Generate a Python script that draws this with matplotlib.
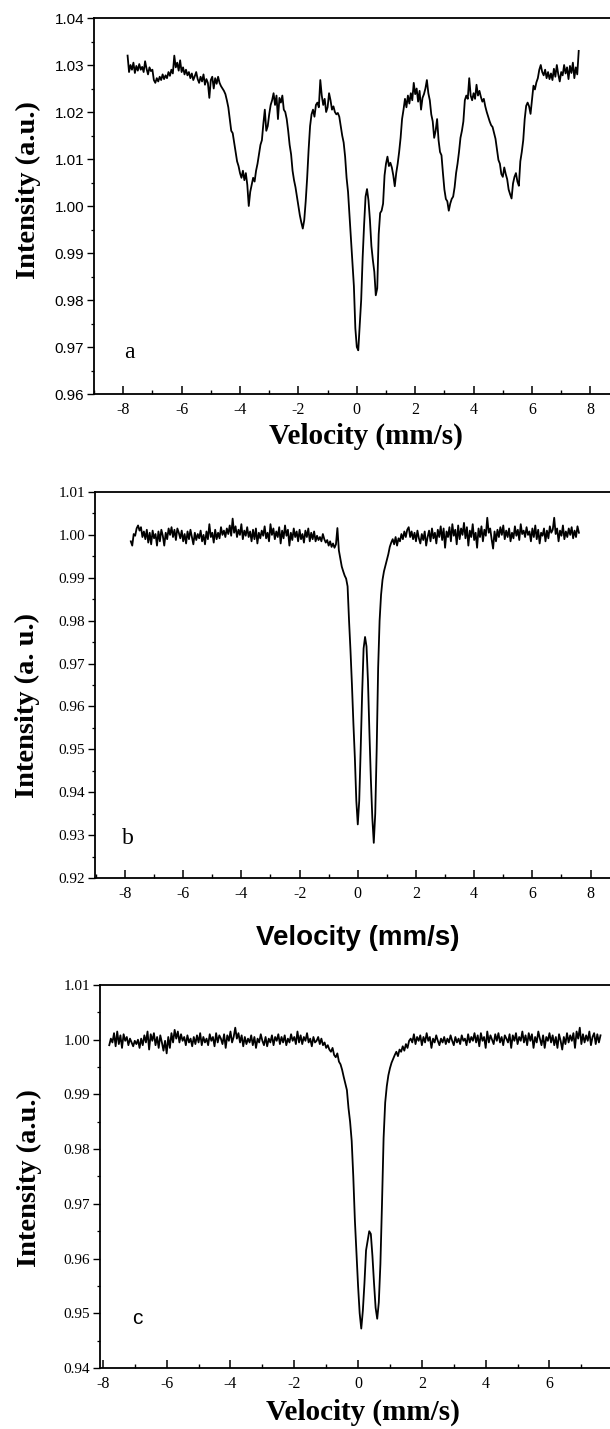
import numpy as np
import matplotlib
matplotlib.use('Agg')
import matplotlib.pyplot as plt
from matplotlib.ticker import MultipleLocator, FormatStrFormatter

plt.rcParams['axes.unicode_minus'] = False

SERIF = 'Liberation Serif'
SANS = 'Liberation Sans'

# Mossbauer spectra, channel step 0.05 mm/s
start_a = -7.85
int_a = [
    1.0320, 1.0285, 1.0300, 1.0290, 1.0305, 1.0283, 1.0298, 1.0288, 1.0302, 1.0290,
    1.0296, 1.0285, 1.0308, 1.0292, 1.0280, 1.0295, 1.0287, 1.0290, 1.0268, 1.0262,
    1.0272, 1.0265, 1.0275, 1.0268, 1.0280, 1.0270, 1.0278, 1.0272, 1.0285, 1.0277,
    1.0290, 1.0282, 1.0320, 1.0295, 1.0305, 1.0288, 1.0310, 1.0285, 1.0295, 1.0280,
    1.0290, 1.0278, 1.0285, 1.0272, 1.0282, 1.0268, 1.0276, 1.0285, 1.0270, 1.0262,
    1.0275, 1.0265, 1.0280, 1.0258, 1.0270, 1.0262, 1.0230, 1.0268, 1.0275, 1.0250,
    1.0272, 1.0260, 1.0275, 1.0262, 1.0255, 1.0250, 1.0245, 1.0238, 1.0225, 1.0210,
    1.0185, 1.0160, 1.0155, 1.0135, 1.0115, 1.0095, 1.0085, 1.0070, 1.0060, 1.0075,
    1.0055, 1.0070, 1.0045, 1.0000, 1.0030, 1.0045, 1.0060, 1.0052, 1.0075, 1.0090,
    1.0110, 1.0130, 1.0140, 1.0175, 1.0205, 1.0160, 1.0170, 1.0195, 1.0215, 1.0225,
    1.0240, 1.0215, 1.0235, 1.0185, 1.0230, 1.0220, 1.0235, 1.0205, 1.0200, 1.0185,
    1.0160, 1.0130, 1.0110, 1.0075, 1.0055, 1.0040, 1.0020, 1.0000, 0.9980, 0.9965,
    0.9952, 0.9970, 1.0010, 1.0060, 1.0120, 1.0170, 1.0195, 1.0205, 1.0190, 1.0215,
    1.0220, 1.0210, 1.0268, 1.0235, 1.0215, 1.0228, 1.0200, 1.0210, 1.0240, 1.0225,
    1.0205, 1.0212, 1.0200, 1.0195, 1.0198, 1.0190, 1.0170, 1.0150, 1.0135, 1.0105,
    1.0060, 1.0030, 0.9980, 0.9930, 0.9880, 0.9830, 0.9740, 0.9700, 0.9693, 0.9745,
    0.9800, 0.9890, 0.9960, 1.0020, 1.0036, 1.0012, 0.9970, 0.9915, 0.9885, 0.9860,
    0.9810, 0.9825, 0.9940, 0.9985, 0.9990, 1.0005, 1.0065, 1.0090, 1.0105, 1.0085,
    1.0092, 1.0082, 1.0065, 1.0042, 1.0070, 1.0090, 1.0115, 1.0145, 1.0185, 1.0205,
    1.0228, 1.0210, 1.0235, 1.0218, 1.0240, 1.0225, 1.0262, 1.0238, 1.0250, 1.0222,
    1.0245, 1.0205, 1.0230, 1.0238, 1.0250, 1.0268, 1.0240, 1.0225, 1.0195, 1.0180,
    1.0145, 1.0160, 1.0185, 1.0140, 1.0115, 1.0108, 1.0070, 1.0035, 1.0015, 1.0010,
    0.9990, 1.0005, 1.0015, 1.0020, 1.0040, 1.0070, 1.0090, 1.0115, 1.0145, 1.0160,
    1.0180, 1.0225, 1.0235, 1.0228, 1.0272, 1.0235, 1.0225, 1.0240, 1.0228, 1.0258,
    1.0235, 1.0245, 1.0232, 1.0222, 1.0228, 1.0212, 1.0200, 1.0190, 1.0180, 1.0172,
    1.0168, 1.0155, 1.0143, 1.0120, 1.0098, 1.0090, 1.0068, 1.0062, 1.0082, 1.0068,
    1.0057, 1.0035, 1.0025, 1.0016, 1.0048, 1.0062, 1.0070, 1.0052, 1.0043, 1.0095,
    1.0115, 1.0140, 1.0185, 1.0213, 1.0220, 1.0212, 1.0196, 1.0225, 1.0256, 1.0248,
    1.0263, 1.0272, 1.0290, 1.0300, 1.0285, 1.0278, 1.0290, 1.0272, 1.0285, 1.0270,
    1.0282, 1.0268, 1.0292, 1.0275, 1.0300, 1.0280, 1.0265, 1.0285, 1.0278, 1.0300,
    1.0282, 1.0295, 1.0270, 1.0298, 1.0283, 1.0305, 1.0272, 1.0295, 1.0280, 1.0330,
]

start_b = -7.80
int_b = [
    0.9985, 0.9975, 1.0002, 0.9998, 1.0015, 1.0022, 1.0010, 1.0018, 0.9995, 1.0008,
    0.9990, 1.0012, 0.9982, 1.0005, 0.9978, 1.0010, 0.9992, 1.0002, 0.9975, 1.0008,
    0.9985, 1.0012, 0.9998, 0.9975, 1.0005, 0.9990, 1.0015, 1.0000, 1.0018, 0.9995,
    1.0012, 0.9988, 1.0015, 1.0005, 0.9992, 1.0010, 0.9985, 1.0002, 0.9980, 1.0008,
    0.9990, 1.0012, 0.9995, 0.9978, 1.0005, 0.9988, 1.0002, 0.9992, 1.0010, 0.9985,
    1.0000, 0.9978, 1.0008, 0.9990, 1.0025, 0.9995, 1.0005, 0.9982, 1.0012, 0.9990,
    1.0005, 0.9992, 1.0018, 1.0000, 1.0010, 0.9995, 1.0015, 1.0002, 1.0022, 0.9998,
    1.0038, 1.0005, 1.0020, 0.9995, 1.0012, 1.0000, 1.0025, 0.9990, 1.0010, 0.9998,
    1.0018, 0.9995, 1.0008, 0.9985, 1.0012, 0.9990, 1.0015, 0.9980, 1.0005, 0.9992,
    1.0010, 0.9998, 1.0020, 0.9992, 1.0005, 0.9985, 1.0025, 1.0000, 1.0015, 0.9990,
    1.0008, 0.9995, 1.0018, 0.9980, 1.0010, 0.9992, 1.0022, 0.9998, 1.0012, 0.9975,
    1.0005, 0.9988, 1.0015, 0.9995, 1.0008, 0.9985, 1.0012, 0.9990, 1.0002, 0.9982,
    1.0010, 0.9995, 1.0015, 0.9985, 1.0005, 0.9990, 1.0008, 0.9985, 0.9998, 0.9988,
    0.9995, 0.9985, 1.0002, 0.9990, 0.9982, 0.9988, 0.9975, 0.9985, 0.9972, 0.9980,
    0.9970, 0.9978, 1.0016, 0.9964, 0.9945, 0.9926, 0.9915, 0.9905, 0.9898, 0.9880,
    0.9800, 0.9730, 0.9650, 0.9560, 0.9480, 0.9380, 0.9325, 0.9380, 0.9500, 0.9630,
    0.9735, 0.9762, 0.9740, 0.9660, 0.9540, 0.9430, 0.9340, 0.9282, 0.9350, 0.9500,
    0.9690, 0.9800, 0.9860, 0.9895, 0.9915, 0.9928, 0.9940, 0.9955, 0.9972, 0.9982,
    0.9990, 0.9978, 0.9995, 0.9975, 0.9992, 0.9985, 1.0002, 0.9990, 1.0008, 0.9995,
    1.0012, 1.0018, 0.9995, 1.0008, 0.9990, 1.0005, 0.9985, 1.0010, 0.9992, 0.9980,
    1.0002, 0.9988, 1.0008, 0.9975, 0.9995, 1.0010, 0.9985, 1.0015, 0.9992, 1.0005,
    0.9980, 1.0012, 0.9995, 1.0020, 0.9988, 1.0015, 0.9970, 1.0008, 0.9995, 1.0018,
    0.9985, 1.0025, 0.9998, 1.0012, 0.9978, 1.0022, 0.9990, 1.0015, 1.0000, 1.0028,
    0.9992, 1.0018, 0.9975, 1.0010, 0.9995, 1.0025, 0.9988, 1.0005, 0.9970, 1.0015,
    0.9995, 1.0020, 0.9985, 1.0012, 0.9998, 1.0040, 1.0005, 1.0015, 0.9990, 0.9968,
    1.0008, 0.9985, 1.0012, 0.9995, 1.0018, 1.0000, 1.0022, 0.9990, 1.0010, 0.9995,
    1.0015, 0.9985, 1.0005, 0.9992, 1.0020, 0.9998, 1.0012, 0.9988, 1.0025, 1.0002,
    1.0010, 0.9995, 1.0018, 1.0000, 1.0008, 0.9985, 1.0015, 0.9995, 1.0022, 0.9990,
    1.0012, 0.9980, 1.0005, 0.9998, 1.0015, 0.9985, 1.0010, 0.9992, 1.0020, 1.0005,
    1.0012, 1.0040, 1.0002, 1.0015, 0.9985, 1.0010, 0.9998, 1.0022, 0.9990, 1.0008,
    0.9995, 1.0015, 1.0000, 1.0018, 0.9992, 1.0010, 0.9995, 1.0020, 1.0005,
]

start_c = -7.80
int_c = [
    0.9990, 1.0002, 0.9995, 1.0012, 0.9988, 1.0015, 0.9992, 1.0008, 0.9985, 1.0010,
    0.9998, 1.0005, 0.9990, 1.0002, 0.9995, 0.9988, 0.9998, 0.9992, 1.0000, 0.9985,
    1.0002, 0.9990, 1.0008, 0.9995, 1.0015, 0.9982, 1.0010, 0.9998, 1.0012, 0.9990,
    1.0005, 0.9985, 1.0008, 0.9995, 0.9980, 0.9998, 0.9975, 1.0005, 0.9985, 1.0012,
    0.9995, 1.0018, 1.0002, 1.0015, 0.9995, 1.0010, 0.9998, 1.0005, 0.9990, 1.0008,
    0.9995, 1.0002, 0.9988, 1.0005, 0.9992, 1.0008, 0.9995, 1.0012, 0.9990, 1.0005,
    0.9995, 1.0002, 0.9990, 1.0010, 0.9998, 1.0005, 0.9988, 1.0012, 0.9995, 1.0008,
    1.0002, 0.9992, 1.0010, 0.9985, 1.0008, 0.9998, 1.0015, 0.9995, 1.0005, 1.0022,
    1.0002, 1.0012, 0.9995, 1.0008, 0.9988, 1.0005, 0.9992, 1.0002, 0.9995, 1.0008,
    0.9990, 1.0005, 0.9985, 1.0002, 0.9995, 1.0010, 0.9998, 0.9990, 1.0005, 0.9988,
    1.0002, 0.9995, 1.0008, 0.9990, 1.0005, 0.9998, 1.0010, 0.9992, 1.0005, 0.9995,
    1.0008, 0.9990, 1.0002, 0.9995, 1.0010, 0.9998, 1.0005, 0.9992, 1.0015, 0.9995,
    1.0008, 0.9992, 1.0005, 0.9998, 1.0012, 0.9995, 1.0002, 0.9988, 1.0005, 0.9995,
    0.9998, 1.0005, 0.9992, 1.0002, 0.9990, 0.9995, 0.9985, 0.9990, 0.9982, 0.9978,
    0.9985, 0.9972, 0.9968, 0.9975, 0.9960, 0.9955, 0.9945, 0.9932, 0.9920, 0.9908,
    0.9875, 0.9850, 0.9815, 0.9750, 0.9670, 0.9610, 0.9550, 0.9500, 0.9472, 0.9505,
    0.9555, 0.9615, 0.9632, 0.9650, 0.9645, 0.9605, 0.9555, 0.9510, 0.9490, 0.9520,
    0.9590, 0.9700, 0.9820, 0.9885, 0.9915, 0.9935, 0.9948, 0.9958, 0.9965, 0.9972,
    0.9978, 0.9970, 0.9982, 0.9978, 0.9988, 0.9980, 0.9992, 0.9985, 0.9998, 1.0002,
    0.9995, 1.0010, 0.9992, 1.0005, 0.9998, 1.0008, 0.9990, 1.0005, 0.9995, 1.0012,
    0.9998, 1.0005, 0.9985, 1.0002, 0.9995, 1.0008, 0.9998, 0.9990, 1.0002, 0.9995,
    1.0005, 0.9992, 1.0002, 0.9995, 1.0008, 0.9998, 0.9990, 1.0005, 0.9995, 1.0002,
    0.9992, 1.0008, 0.9998, 1.0002, 0.9990, 1.0010, 0.9995, 1.0005, 0.9998, 1.0012,
    0.9995, 1.0008, 0.9988, 1.0012, 0.9998, 1.0005, 0.9985, 1.0015, 0.9995, 1.0008,
    1.0000, 0.9992, 1.0010, 0.9998, 1.0012, 0.9995, 1.0005, 0.9990, 1.0008, 1.0002,
    0.9995, 1.0010, 0.9985, 1.0008, 0.9998, 1.0012, 0.9992, 1.0005, 0.9998, 1.0015,
    0.9995, 1.0008, 0.9990, 1.0012, 0.9998, 1.0010, 0.9985, 1.0005, 0.9995, 1.0015,
    1.0002, 0.9990, 1.0008, 0.9985, 1.0005, 0.9998, 1.0012, 0.9995, 1.0008, 0.9990,
    1.0005, 0.9985, 1.0010, 0.9998, 0.9982, 1.0005, 0.9992, 1.0012, 0.9995, 1.0008,
    0.9998, 1.0012, 0.9985, 1.0015, 1.0002, 1.0022, 0.9992, 1.0010, 0.9995, 1.0008,
    0.9998, 1.0015, 0.9990, 1.0005, 1.0012, 0.9992, 1.0010, 0.9995, 1.0008,
]

step = 0.05
vel_a = start_a + step * np.arange(len(int_a))
vel_b = start_b + step * np.arange(len(int_b))
vel_c = start_c + step * np.arange(len(int_c))

xticks_ab = [-8, -6, -4, -2, 0, 2, 4, 6, 8]
xticks_c = [-8, -6, -4, -2, 0, 2, 4, 6]

W, H = 610, 1429
fig = plt.figure(figsize=(W / 100, H / 100), dpi=100)


def px(x0, y0, x1, y1):
    # pixel box -> figure fraction
    return [x0 / W, 1 - y1 / H, (x1 - x0) / W, (y1 - y0) / H]


def setup(ax, ylim, yticks, ytick_font, xtick_font):
    ax.set_ylim(*ylim)
    ax.set_yticks(yticks)
    ax.yaxis.set_minor_locator(MultipleLocator(0.005))
    ax.yaxis.set_major_formatter(FormatStrFormatter('%.2f'))
    ax.xaxis.set_minor_locator(MultipleLocator(1))
    ax.tick_params(axis='x', which='major', direction='in', length=6, width=1.1,
                   pad=6, labelsize=11.5)
    ax.tick_params(axis='x', which='minor', direction='in', length=3, width=1.0)
    ax.tick_params(axis='y', which='major', direction='out', length=5, width=1.0,
                   pad=2, labelsize=11)
    ax.tick_params(axis='y', which='minor', direction='out', length=2.5, width=0.9)
    ax.tick_params(top=False, right=False, which='both')
    for lab in ax.get_xticklabels():
        lab.set_fontfamily(xtick_font)
    for lab in ax.get_yticklabels():
        lab.set_fontfamily(ytick_font)
    for s in ax.spines.values():
        s.set_linewidth(1.3)
    ax.spines['right'].set_visible(False)


# panel a
ax1 = fig.add_axes(px(94, 18, 94 + 18.0 * 29.2, 394))
ax1.plot(vel_a, int_a, color='black', lw=1.3)
ax1.set_xlim(-9.0, 9.0)
ax1.set_xticks(xticks_ab)
setup(ax1, (0.96, 1.04), np.arange(0.96, 1.0401, 0.01), SANS, SERIF)

# panel b
ax2 = fig.add_axes(px(95, 492, 95 + 18.03 * 29.1, 878))
ax2.plot(vel_b, int_b, color='black', lw=1.3)
ax2.set_xlim(-9.03, 9.0)
ax2.set_xticks(xticks_ab)
setup(ax2, (0.92, 1.01), np.arange(0.92, 1.0101, 0.01), SERIF, SERIF)

# panel c
ax3 = fig.add_axes(px(100, 985, 100 + 16.09 * 31.9, 1368))
ax3.plot(vel_c, int_c, color='black', lw=1.3)
ax3.set_xlim(-8.09, 8.0)
ax3.set_xticks(xticks_c)
setup(ax3, (0.94, 1.01), np.arange(0.94, 1.0101, 0.01), SERIF, SERIF)


# panel letters and axis titles (pixel positions from the figure)
def ftext(x, y, s, **kw):
    fig.text(x / W, 1 - y / H, s, **kw)


ftext(124, 353, 'a', fontsize=17, family=SERIF, va='center', ha='left')
ftext(122, 838, 'b', fontsize=17, family=SERIF, va='center', ha='left')
ftext(132, 1318, 'c', fontsize=15, family=SANS, va='center', ha='left')

ftext(366, 436, 'Velocity (mm/s)', fontsize=21, family=SERIF, weight='bold',
      ha='center', va='center')
ftext(358, 938, 'Velocity (mm/s)', fontsize=20, family=SANS, weight='bold',
      ha='center', va='center')
ftext(363, 1412, 'Velocity (mm/s)', fontsize=21, family=SERIF, weight='bold',
      ha='center', va='center')

ftext(28, 190, 'Intensity (a.u.)', fontsize=20.5, family=SERIF, weight='bold',
      ha='center', va='center', rotation=90)
ftext(27, 705, 'Intensity (a. u.)', fontsize=20.5, family=SERIF, weight='bold',
      ha='center', va='center', rotation=90)
ftext(29, 1178, 'Intensity (a.u.)', fontsize=20.5, family=SERIF, weight='bold',
      ha='center', va='center', rotation=90)

fig.savefig('out.png', dpi=100)
